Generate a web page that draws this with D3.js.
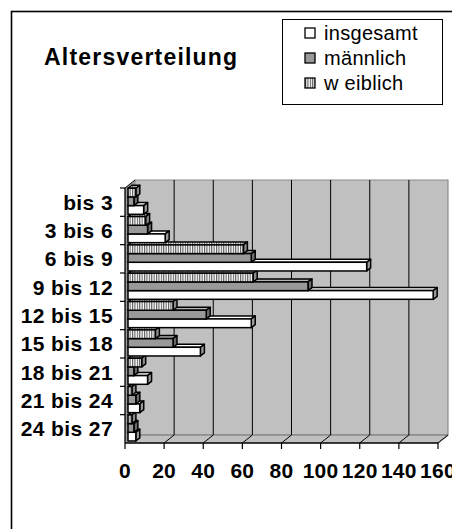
<!DOCTYPE html>
<html lang="de">
<head>
<meta charset="utf-8">
<script src="https://d3js.org/d3.v7.min.js"></script>
<style>
  body { margin: 0; background: #fff; }
  svg { display: block; font-family: "Liberation Sans", Arial, sans-serif; }
</style>
</head>
<body>
<div class="chart"></div>
<script>

var w = 452;
var h = 529;

// data
var categories = ["bis 3", "3 bis 6", "6 bis 9", "9 bis 12", "12 bis 15", "15 bis 18", "18 bis 21", "21 bis 24", "24 bis 27"];
var insgesamt = [8, 19, 122, 156, 63, 37, 10, 6, 4];
var maennlich = [3, 10, 63, 92, 40, 23, 3, 4, 3];
var weiblich = [4, 9, 59, 64, 23, 14, 7, 2, 2];
var seriesNames = ["insgesamt", "männlich", "w eiblich"];
var xTicks = [0, 20, 40, 60, 80, 100, 120, 140, 160];

var svg = d3.select(".chart")
  .append("svg")
  .attr("width", w)
  .attr("height", h);

var defs = svg.append("defs");
var pat = defs.append("pattern")
  .attr("id", "stripes")
  .attr("patternUnits", "userSpaceOnUse")
  .attr("width", 2.4)
  .attr("height", 4);
pat.append("rect").attr("width", 2.4).attr("height", 4).attr("fill", "#fff");
pat.append("rect").attr("width", 1.1).attr("height", 4).attr("fill", "#5a5a5a");

// outer frame
svg.append("rect")
  .attr("x", 11.5).attr("y", 11.5)
  .attr("width", 500).attr("height", 600)
  .attr("fill", "none").attr("stroke", "#000").attr("stroke-width", 1.6);

// scales
var x = d3.scaleLinear().domain([0, 160]).range([125, 438]);
var y = d3.scaleBand().domain(categories).range([188, 443]);
var inner = d3.scaleBand().domain([2, 1, 0]).range([0, y.bandwidth()]).paddingOuter(0.13);

var DX = 10, DY = -8;       // depth of the walls
var bx = 3, by = -2.4;      // where the bars sit in depth
var bdx = 4, bdy = -3;      // depth of a bar

var yTop = y.range()[0], yBot = y.range()[1];
var x0 = x(0), x1 = x(160);

function poly(pts) { return "M" + pts.map(function(p) { return p.join(","); }).join("L") + "Z"; }

// back wall
svg.append("path")
  .attr("d", poly([[x0 + DX, yTop + DY], [x1 + DX, yTop + DY], [x1 + DX, yBot + DY], [x0 + DX, yBot + DY]]))
  .attr("fill", "#c0c0c0").attr("stroke", "#8a8a8a").attr("stroke-width", 1.2);

// left wall
svg.append("path")
  .attr("d", poly([[x0, yTop], [x0 + DX, yTop + DY], [x0 + DX, yBot + DY], [x0, yBot]]))
  .attr("fill", "#9a9a9a").attr("stroke", "none");

// floor
svg.append("path")
  .attr("d", poly([[x0, yBot], [x0 + DX, yBot + DY], [x1 + DX, yBot + DY], [x1, yBot]]))
  .attr("fill", "#c0c0c0").attr("stroke", "none");
svg.append("line")
  .attr("x1", x0 + DX).attr("x2", x1 + DX)
  .attr("y1", yBot + DY).attr("y2", yBot + DY)
  .attr("stroke", "#8a8a8a").attr("stroke-width", 1.5);
svg.append("line")
  .attr("x1", x1).attr("y1", yBot).attr("x2", x1 + DX).attr("y2", yBot + DY)
  .attr("stroke", "#8a8a8a").attr("stroke-width", 1.2);

// gridlines on wall and floor
svg.selectAll("line.grid")
  .data(xTicks.slice(1, -1))
  .enter().append("line")
  .attr("class", "grid")
  .attr("x1", function(d) { return x(d) + DX; })
  .attr("x2", function(d) { return x(d) + DX; })
  .attr("y1", yTop + DY).attr("y2", yBot + DY)
  .attr("stroke", "#000").attr("stroke-width", 1);
svg.selectAll("line.floorgrid")
  .data(xTicks.slice(1))
  .enter().append("line")
  .attr("class", "floorgrid")
  .attr("x1", function(d) { return x(d); })
  .attr("x2", function(d) { return x(d) + DX; })
  .attr("y1", yBot).attr("y2", yBot + DY)
  .attr("stroke", "#000").attr("stroke-width", 1);

// bars
var series = [
  { name: "insgesamt", values: insgesamt, front: "#ffffff", topc: "#ffffff", side: "#9a9a9a" },
  { name: "männlich", values: maennlich, front: "#999999", topc: "#b4b4b4", side: "#6a6a6a" },
  { name: "weiblich", values: weiblich, front: "url(#stripes)", topc: "url(#stripes)", side: "#8a8a8a" }
];

function drawBar(g, cat, si) {
  var s = series[si];
  var v = s.values[categories.indexOf(cat)];
  var xa = x(0) + bx, xb = x(v) + bx;
  var ya = y(cat) + inner(si) + by + 1.5, yb = ya + inner.bandwidth();
  // top face
  g.append("path")
    .attr("d", poly([[xa, ya], [xa + bdx, ya + bdy], [xb + bdx, ya + bdy], [xb, ya]]))
    .attr("fill", s.topc).attr("stroke", "#000").attr("stroke-width", 1.5).attr("stroke-linejoin", "round");
  // side face
  g.append("path")
    .attr("d", poly([[xb, ya], [xb + bdx, ya + bdy], [xb + bdx, yb + bdy], [xb, yb]]))
    .attr("fill", s.side).attr("stroke", "#000").attr("stroke-width", 1.5).attr("stroke-linejoin", "round");
  // front face
  g.append("rect")
    .attr("x", xa).attr("y", ya)
    .attr("width", xb - xa).attr("height", yb - ya)
    .attr("fill", s.front).attr("stroke", "#000").attr("stroke-width", 1.5);
}

var bars = svg.append("g");
categories.slice().reverse().forEach(function(cat) {
  drawBar(bars, cat, 0);
  drawBar(bars, cat, 1);
  drawBar(bars, cat, 2);
});

// axes
var yAxisG = svg.append("g");
yAxisG.append("line")
  .attr("x1", x0).attr("x2", x0).attr("y1", yTop).attr("y2", yBot)
  .attr("stroke", "#000").attr("stroke-width", 1.3);
yAxisG.append("line")
  .attr("x1", x0).attr("y1", yTop).attr("x2", x0 + DX).attr("y2", yTop + DY)
  .attr("stroke", "#000").attr("stroke-width", 1);
yAxisG.selectAll("line.tick")
  .data(categories)
  .enter().append("line")
  .attr("class", "tick")
  .attr("x1", x0 - 5).attr("x2", x0)
  .attr("y1", function(d) { return y(d); })
  .attr("y2", function(d) { return y(d); })
  .attr("stroke", "#000").attr("stroke-width", 1.2);
yAxisG.selectAll("text")
  .data(categories)
  .enter().append("text")
  .attr("x", 113)
  .attr("y", function(d) { return y(d) + y.bandwidth() / 2; })
  .attr("dy", "0.36em")
  .attr("text-anchor", "end")
  .attr("font-size", 21)
  .attr("font-weight", "bold")
  .attr("letter-spacing", 0.4)
  .text(function(d) { return d; });

var xAxisG = svg.append("g");
xAxisG.append("line")
  .attr("x1", x0).attr("x2", x1).attr("y1", yBot).attr("y2", yBot)
  .attr("stroke", "#000").attr("stroke-width", 1.3);
xAxisG.selectAll("line.tick")
  .data(xTicks)
  .enter().append("line")
  .attr("class", "tick")
  .attr("x1", function(d) { return x(d); })
  .attr("x2", function(d) { return x(d); })
  .attr("y1", yBot).attr("y2", yBot + 6)
  .attr("stroke", "#000").attr("stroke-width", 1.2);
xAxisG.selectAll("text")
  .data(xTicks)
  .enter().append("text")
  .attr("x", function(d) { return x(d); })
  .attr("y", 478)
  .attr("text-anchor", "middle")
  .attr("font-size", 21)
  .attr("font-weight", "bold")
  .attr("letter-spacing", 0.3)
  .text(function(d) { return d; });

// title
svg.append("text")
  .attr("x", 44).attr("y", 65)
  .attr("font-size", 23)
  .attr("font-weight", "bold")
  .attr("letter-spacing", 1.2)
  .text("Altersverteilung");

// legend
var legend = svg.append("g");
legend.append("rect")
  .attr("x", 282.5).attr("y", 19.5)
  .attr("width", 160).attr("height", 85)
  .attr("fill", "#fff").attr("stroke", "#000").attr("stroke-width", 1);

var legendFill = ["#ffffff", "#999999", "url(#stripes)"];
var li = legend.selectAll("g.item")
  .data(seriesNames)
  .enter().append("g")
  .attr("class", "item")
  .attr("transform", function(d, i) { return "translate(305," + (33 + i * 25) + ")"; });
li.append("rect")
  .attr("x", 0).attr("y", -5)
  .attr("width", 10).attr("height", 10)
  .attr("fill", function(d, i) { return legendFill[i]; })
  .attr("stroke", "#000").attr("stroke-width", 1.3);
li.append("text")
  .attr("x", 19).attr("dy", "0.36em")
  .attr("font-size", 20)
  .attr("letter-spacing", 0.3)
  .text(function(d) { return d; });

</script>
</body>
</html>
